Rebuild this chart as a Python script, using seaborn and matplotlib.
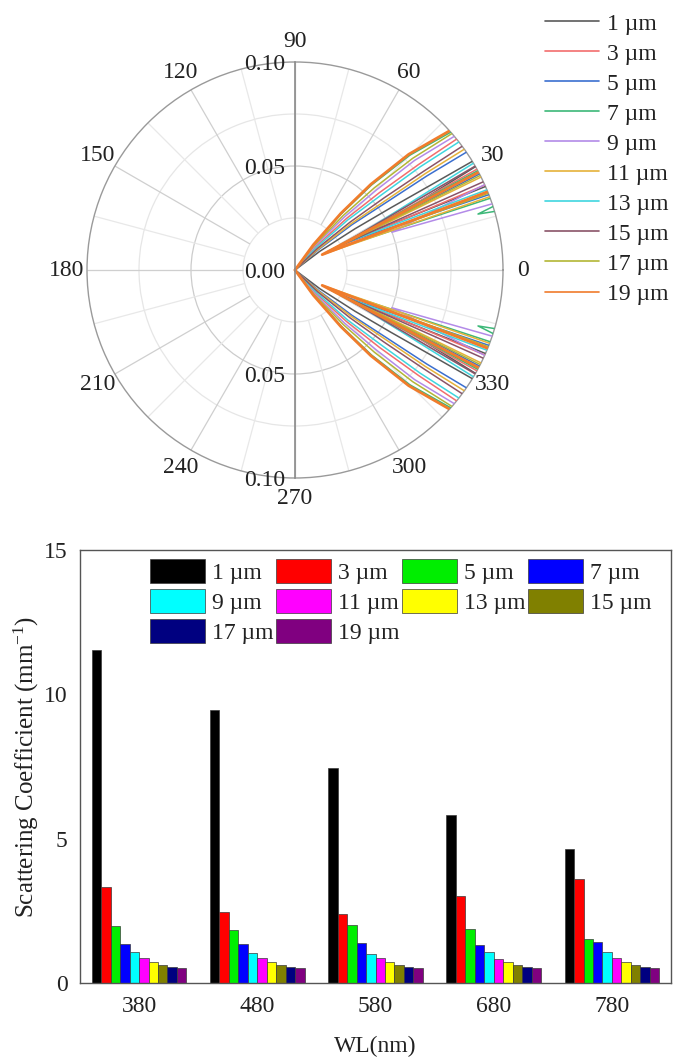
import numpy as np
import pandas as pd
import matplotlib
matplotlib.use("Agg")
import matplotlib.pyplot as plt
from matplotlib.lines import Line2D
import seaborn as sns

# ---------------- data ----------------
sizes = ["1 µm", "3 µm", "5 µm", "7 µm", "9 µm", "11 µm", "13 µm", "15 µm", "17 µm", "19 µm"]

# polar (upper half; lower half is its mirror image) : angle in degrees, radius
r_arm = [0, 0.015, 0.035, 0.055, 0.078, 0.1, 0.11]
theta_1 = [40, 37, 34.5, 33, 32, 31.5, 31.1, 30, 26.5, 23.5, 0]
r_1 = r_arm + [0.11, 0.04, 0.11, 0.11]
theta_3 = [53, 48.5, 45, 42.5, 40.5, 39, 38.6, 29, 28.5, 24, 0]
r_3 = r_arm + [0.11, 0.022, 0.11, 0.11]
theta_5 = [45, 41, 38.5, 36.5, 35.5, 34.5, 34.1, 27.5, 27.5, 21, 0]
r_5 = r_arm + [0.11, 0.03, 0.11, 0.11]
theta_7 = [57.5, 53.5, 50.5, 48, 45, 41.5, 41.1, 28.5, 29.3, 20, 18.2, 17, 16, 0]
r_7 = r_arm + [0.11, 0.018, 0.11, 0.105, 0.092, 0.105, 0.11]
theta_9 = [55, 50.5, 47, 44.5, 42.5, 40, 39.6, 24.5, 21.3, 18.3, 0]
r_9 = r_arm + [0.11, 0.05, 0.11, 0.11]
theta_11 = [46, 42, 39.5, 37.5, 36.5, 35.5, 35.1, 26.5, 29.5, 20.5, 0]
r_11 = r_arm + [0.11, 0.015, 0.11, 0.11]
theta_13 = [51, 46.5, 43.5, 41, 39.5, 38, 37.6, 31, 28, 22.5, 0]
r_13 = r_arm + [0.11, 0.028, 0.11, 0.11]
theta_15 = [48, 44, 41, 39, 37.5, 36.5, 36.1, 30, 28.5, 25, 0]
r_15 = r_arm + [0.11, 0.024, 0.11, 0.11]
theta_17 = [56, 52, 48.5, 46, 43.5, 41, 40.6, 27, 29.2, 21.5, 0]
r_17 = r_arm + [0.11, 0.017, 0.11, 0.11]
theta_19 = [58, 54, 51, 48.5, 45.5, 42, 41.6, 28, 29.5, 22, 0]
r_19 = r_arm + [0.11, 0.015, 0.11, 0.11]

polar_theta = [theta_1, theta_3, theta_5, theta_7, theta_9, theta_11, theta_13, theta_15, theta_17, theta_19]
polar_r = [r_1, r_3, r_5, r_7, r_9, r_11, r_13, r_15, r_17, r_19]
line_colors = ["#5a5a5a", "#f26d6d", "#3b6fcf", "#3cb878", "#b38be8",
               "#e5b13a", "#3fd6df", "#8a5468", "#b3b635", "#f07c2c"]

angle_labels = ["0", "30", "60", "90", "120", "150", "180", "210", "240", "270", "300", "330"]
radial_labels = ["0.10", "0.05", "0.00", "0.05", "0.10"]

# bar chart
wavelengths = ["380", "480", "580", "680", "780"]
sc_1 = [11.55, 9.45, 7.44, 5.83, 4.63]
sc_3 = [3.31, 2.47, 2.40, 3.00, 3.60]
sc_5 = [1.96, 1.85, 2.01, 1.87, 1.52]
sc_7 = [1.35, 1.35, 1.39, 1.32, 1.41]
sc_9 = [1.06, 1.05, 1.02, 1.07, 1.06]
sc_11 = [0.85, 0.87, 0.85, 0.84, 0.85]
sc_13 = [0.73, 0.73, 0.74, 0.73, 0.72]
sc_15 = [0.64, 0.64, 0.64, 0.64, 0.64]
sc_17 = [0.57, 0.57, 0.57, 0.57, 0.57]
sc_19 = [0.51, 0.51, 0.51, 0.51, 0.51]
bar_values = [sc_1, sc_3, sc_5, sc_7, sc_9, sc_11, sc_13, sc_15, sc_17, sc_19]
bar_colors = ["#000000", "#ff0000", "#00ee00", "#0000ff", "#00ffff",
              "#ff00ff", "#ffff00", "#808000", "#000080", "#800080"]

# ---------------- style ----------------
sns.set_style("white")
plt.rcParams["font.family"] = ["Liberation Serif", "DejaVu Serif"]
plt.rcParams["mathtext.fontset"] = "custom"
plt.rcParams["mathtext.rm"] = "Liberation Serif"
plt.rcParams["mathtext.it"] = "Liberation Serif:italic"
FS = 17
TXT = "#222222"

W, H = 683, 1057
fig = plt.figure(figsize=(W / 100, H / 100), dpi=100)

# ---------------- polar plot ----------------
cx, cy, R = 295, 270, 208
rect = [(cx - R) / W, 1 - (cy + R) / H, 2 * R / W, 2 * R / H]
axp = fig.add_axes(rect, projection="polar")
axp.set_facecolor("white")

# spokes (angular grid) starting at r = 0.025
for a in range(0, 360, 15):
    col = "#cfcfcf" if a % 30 == 0 else "#e8e8e8"
    axp.vlines(np.deg2rad(a), 0.025, 0.1, colors=col, linewidth=0.9, zorder=1)
axp.xaxis.grid(False)

handles = []
for lab, th, rr, col in zip(sizes, polar_theta, polar_r, line_colors):
    th = np.array(th, dtype=float)
    rr = np.array(rr, dtype=float)
    full_th = np.deg2rad(np.concatenate([th, -th[::-1]]))
    full_r = np.concatenate([rr, rr[::-1]])
    lw = 2.0 if lab == "19 µm" else 1.1
    sns.lineplot(x=full_th, y=full_r, sort=False, estimator=None, color=col,
                 linewidth=lw, ax=axp, zorder=3)
    handles.append(Line2D([0], [0], color=col, linewidth=1.2))

axp.set_ylim(0, 0.1)
axp.set_yticks([0.025, 0.05, 0.075])
axp.set_yticklabels([])
axp.yaxis.grid(True)
for gl, loc in zip(axp.yaxis.get_gridlines(), [0.025, 0.05, 0.075]):
    gl.set_color("#cccccc" if loc == 0.05 else "#e6e6e6")
    gl.set_linewidth(0.9)
axp.set_xticks(np.deg2rad(np.arange(0, 360, 30)))
axp.set_xticklabels(angle_labels, fontsize=FS, color=TXT)
axp.tick_params(axis="x", pad=4)
axp.spines["polar"].set_color("#9a9a9a")
axp.spines["polar"].set_linewidth(1.0)
axp.set_xlabel("")
axp.set_ylabel("")

# vertical radial axis overlay
axr = fig.add_axes(rect)
axr.patch.set_visible(False)
axr.set_xlim(-0.1, 0.1)
axr.set_ylim(-0.1, 0.1)
for s in ["top", "right", "bottom"]:
    axr.spines[s].set_visible(False)
axr.spines["left"].set_position(("data", 0))
axr.spines["left"].set_color("#8a8a8a")
axr.spines["left"].set_linewidth(1.2)
axr.set_xticks([])
axr.set_yticks([0.1, 0.05, 0.0, -0.05, -0.1])
axr.set_yticklabels(radial_labels, fontsize=FS, color=TXT)
axr.set_yticks([0.075, 0.025, -0.025, -0.075], minor=True)
axr.tick_params(axis="y", which="major", direction="out", length=6, color="#8a8a8a", pad=1)
axr.tick_params(axis="y", which="minor", direction="out", length=4, color="#8a8a8a")

fig.legend(handles, sizes, loc="upper left", bbox_to_anchor=(545 / W, 1 - 13 / H),
           frameon=False, fontsize=FS, handlelength=2.3, handletextpad=0.33,
           labelspacing=0.36, borderpad=0, borderaxespad=0, labelcolor=TXT)

# ---------------- bar chart ----------------
rows = []
for lab, vals in zip(sizes, bar_values):
    for wl, v in zip(wavelengths, vals):
        rows.append({"wl": wl, "size": lab, "val": v})
df = pd.DataFrame(rows)

axb = fig.add_axes([80 / W, 1 - 983 / H, 591 / W, 433 / H])
sns.barplot(data=df, x="wl", y="val", hue="size", hue_order=sizes, order=wavelengths,
            palette=bar_colors, saturation=1, width=0.8, edgecolor="#3a3a3a",
            linewidth=0.5, ax=axb, legend=True)
axb.set_xlim(-0.5, 4.5)
axb.set_ylim(0, 15)
axb.set_yticks([0, 5, 10, 15])
axb.set_yticks([2.5, 7.5, 12.5], minor=True)
axb.set_xticks([0.5, 1.5, 2.5, 3.5], minor=True)
axb.tick_params(axis="both", which="major", direction="out", length=6, width=1,
                color="#555555", labelsize=FS, labelcolor=TXT, pad=3)
axb.tick_params(axis="both", which="minor", direction="out", length=4, width=1,
                color="#555555")
for s in axb.spines.values():
    s.set_visible(True)
    s.set_color("#555555")
    s.set_linewidth(1.0)
axb.set_ylabel("Scattering Coefficient (mm$^{\\mathregular{-1}}$)", fontsize=18,
               color=TXT, labelpad=2)
axb.set_xlabel("WL(nm)", fontsize=FS, color=TXT, labelpad=14)

h, l = axb.get_legend_handles_labels()
order = [0, 4, 8, 1, 5, 9, 2, 6, 3, 7]
axb.legend([h[i] for i in order], [l[i] for i in order], ncol=4, loc="upper left",
           bbox_to_anchor=(150 / W, 1 - 559 / H), bbox_transform=fig.transFigure,
           frameon=False, fontsize=FS, handlelength=2.33, handleheight=1.2,
           handletextpad=0.3, columnspacing=0.1, labelspacing=0.2, borderpad=0,
           borderaxespad=0, labelcolor=TXT)

fig.savefig("out.png", dpi=100)
